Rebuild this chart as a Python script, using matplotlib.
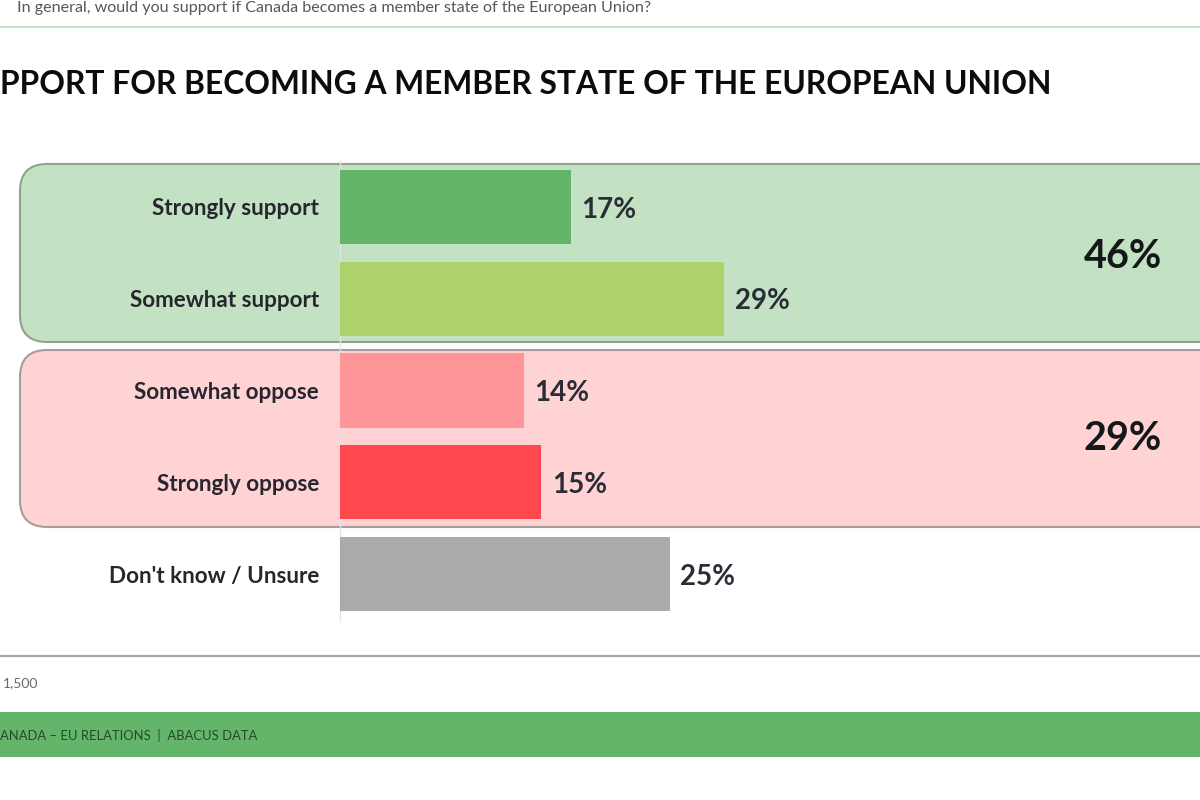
import matplotlib
matplotlib.use('Agg')
import matplotlib.pyplot as plt
from matplotlib.patches import FancyBboxPatch, Rectangle

categories = ['Strongly support', 'Somewhat support', 'Somewhat oppose', 'Strongly oppose', "Don't know / Unsure"]
values = [17.4, 29.0, 13.9, 15.2, 24.9]
labels = ['17%', '29%', '14%', '15%', '25%']
colors = ['#64b56a', '#afd36c', '#fe9598', '#ff474e', '#a9aaac']
net_labels = ['46%', '29%']

# the slide is cropped in the reference, these are the parts that show
question = 'In general, would you support if Canada becomes a member state of the European Union?'
title = 'PPORT FOR BECOMING A MEMBER STATE OF THE EUROPEAN UNION'
base_note = '1,500'
footer = 'ANADA – EU RELATIONS  |  ABACUS DATA'

plt.rcParams['font.family'] = ['Lato', 'DejaVu Sans']
dark = '#26262e'

fig = plt.figure(figsize=(12, 8), dpi=100)

# background layer in pixels, for the slide furniture
bg = fig.add_axes([0, 0, 1, 1])
bg.set_xlim(0, 1200)
bg.set_ylim(800, 0)
bg.axis('off')

bg.text(17, 8, question, fontsize=11.6, color='#55585a', va='center')
bg.plot([0, 1200], [26.5, 26.5], color='#c5e3c5', lw=1.5)
bg.text(0, 84, title, fontsize=22.9, fontweight='bold', color='#0c0c10', va='center')

bg.add_patch(FancyBboxPatch((20, 164), 1300, 178, boxstyle='round,pad=0,rounding_size=27',
                            fc='#c3e1c3', ec='#8fa38f', lw=1.5))
bg.add_patch(FancyBboxPatch((20, 350), 1300, 177, boxstyle='round,pad=0,rounding_size=27',
                            fc='#ffd2d3', ec='#a89c9c', lw=1.5))

bg.plot([0, 1200], [655.5, 655.5], color='#a6a6a6', lw=1.5)
bg.text(3, 683, base_note, fontsize=10, color='#66686a', va='center')
bg.add_patch(Rectangle((0, 712), 1200, 45, fc='#64b56a', ec='none'))
bg.text(0, 735, footer, fontsize=9.4, color='#24492a', va='center')

bg.text(1123, 256, net_labels[0], fontsize=28.5, fontweight='bold', color='#14181a', ha='center', va='center')
bg.text(1123, 439, net_labels[1], fontsize=28.5, fontweight='bold', color='#14181a', ha='center', va='center')

# bar chart, the axes spans x 340-1200 px and y 161-620 px
ax = fig.add_axes([340 / 1200, 1 - 620 / 800, 860 / 1200, 459 / 800])
ax.patch.set_alpha(0)
y = range(len(categories))
ax.barh(y, values, height=0.81, color=colors, zorder=3)
ax.set_xlim(0, 860 / 13.25)
ax.set_ylim(4.5, -0.5)
ax.set_yticks(list(y))
ax.set_yticklabels(categories, fontsize=16.2, fontweight='bold', color=dark)
ax.set_xticks([])
ax.tick_params(axis='y', length=0, pad=15)
for s in ['top', 'right', 'bottom']:
    ax.spines[s].set_visible(False)
ax.spines['left'].set_color('#e4e4e4')
ax.spines['left'].set_linewidth(1)
ax.spines['left'].set_zorder(1)

for i, v in enumerate(values):
    ax.annotate(labels[i], (v, i), xytext=(7.5, -2), textcoords='offset points',
                fontsize=20, fontweight='bold', color='#2b2d36', va='center')

fig.savefig('out.png', dpi=100)
